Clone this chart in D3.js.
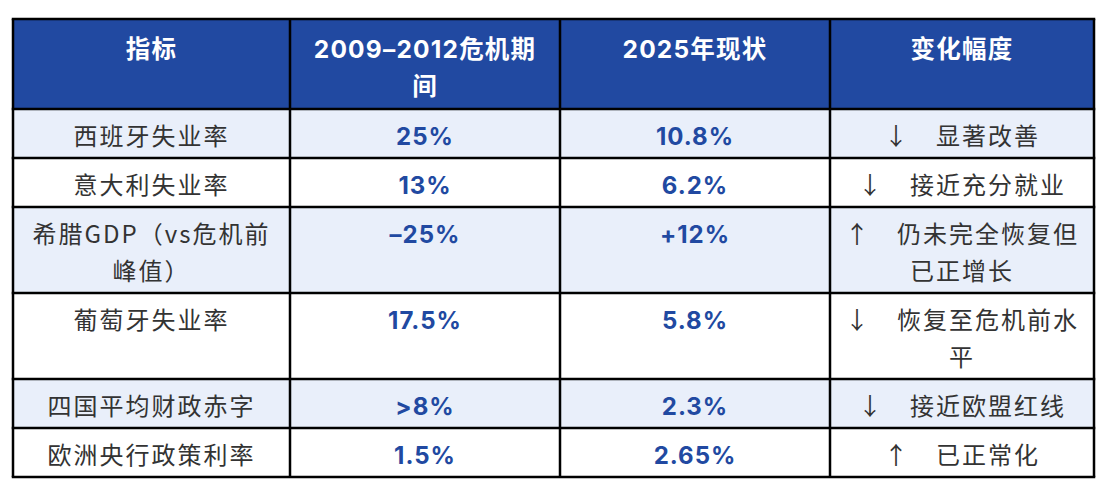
<!DOCTYPE html>
<html>
<head>
<meta charset="utf-8">
<script src="https://cdn.jsdelivr.net/npm/d3@7"></script>
<style>
  html, body { margin: 0; padding: 0; background: #fff; }
  svg text { white-space: pre; }
</style>
</head>
<body>
<svg id="table"></svg>
<script>
// table contents
const columns = ["指标", "2009–2012危机期\n间", "2025年现状", "变化幅度"];
const indicators = ["西班牙失业率", "意大利失业率", "希腊GDP（vs危机前\n峰值）", "葡萄牙失业率", "四国平均财政赤字", "欧洲央行政策利率"];
const crisis = ["25%", "13%", "–25%", "17.5%", ">8%", "1.5%"];
const current = ["10.8%", "6.2%", "+12%", "5.8%", "2.3%", "2.65%"];
const arrows = ["↓", "↓", "↑", "↓", "↓", "↑"];
const changes = ["显著改善", "接近充分就业", "仍未完全恢复但\n已正增长", "恢复至危机前水\n平", "接近欧盟红线", "已正常化"];

const width = 1106, height = 488;
const blue = "#2149a1", light = "#e9effa", ink = "#333333";
const lineH = 37;
const cjk = "'Noto Sans CJK SC', 'Noto Sans', sans-serif";
const latin = "Inter, 'Noto Sans CJK SC', sans-serif";

const rows = indicators.map((d, i) => [
    d.split("\n"),
    [crisis[i]],
    [current[i]],
    (arrows[i] + "\u2003" + changes[i]).split("\n")
]);

// column edges
const colW = [277, 270, 270, 264];
const colX = [0, ...d3.cumsum(colW)];
const x = d3.scaleLinear().domain([0, d3.sum(colW)]).range([13, 1094]);

// row heights from line counts
const headLines = columns.map(c => c.split("\n"));
const headH = 16 + lineH * d3.max(headLines, l => l.length);
const rowH = rows.map(r => 12 + lineH * d3.max(r, c => c.length));
const rowY = [0, headH, ...d3.cumsum(rowH).map(v => v + headH)];
const y = d3.scaleLinear().domain([0, rowY[rowY.length - 1]]).range([19, 477]);

const svg = d3.select("#table").attr("width", width).attr("height", height);

// header
const head = svg.append("g");
head.append("rect")
    .attr("x", x(0)).attr("y", y(0))
    .attr("width", x(colX[4]) - x(0)).attr("height", y(headH) - y(0))
    .attr("fill", blue);

head.selectAll("g")
    .data(headLines)
    .join("g")
    .each(function(lines, j) {
        const cx = (x(colX[j]) + x(colX[j + 1])) / 2;
        d3.select(this).selectAll("text")
            .data(lines)
            .join("text")
            .attr("x", cx)
            .attr("y", (d, k) => y(0) + 8 + lineH * k + lineH / 2 + 4)
            .attr("dy", "0.36em")
            .attr("text-anchor", "middle")
            .attr("fill", "#fff")
            .attr("font-family", latin)
            .attr("font-weight", 700)
            .attr("font-size", 24.5)
            .attr("letter-spacing", 1.2)
            .text(d => d);
    });

// body rows
const body = svg.append("g")
    .selectAll("g")
    .data(rows)
    .join("g")
    .attr("transform", (d, i) => `translate(0,${y(rowY[i + 1])})`);

body.append("rect")
    .attr("x", x(0))
    .attr("width", x(colX[4]) - x(0))
    .attr("height", (d, i) => y(rowY[i + 2]) - y(rowY[i + 1]))
    .attr("fill", (d, i) => i % 2 === 0 ? light : "#fff");

body.each(function(r) {
    const g = d3.select(this);
    r.forEach((lines, j) => {
        const cx = (x(colX[j]) + x(colX[j + 1])) / 2;
        const isValue = j === 1 || j === 2;
        g.append("g").selectAll("text")
            .data(lines)
            .join("text")
            .attr("x", cx)
            .attr("y", (d, k) => 6 + lineH * k + lineH / 2 + 3)
            .attr("dy", "0.36em")
            .attr("text-anchor", "middle")
            .attr("fill", isValue ? blue : ink)
            .attr("font-family", isValue ? latin : cjk)
            .attr("font-weight", isValue ? 700 : 400)
            .attr("font-size", 24)
            .attr("letter-spacing", isValue ? 1 : 2)
            .text(d => d);
    });
});

// grid lines
const grid = svg.append("g").attr("stroke", "#000").attr("stroke-width", 2.5);
grid.selectAll("line.h")
    .data(rowY)
    .join("line")
    .attr("class", "h")
    .attr("x1", x(0) - 1.25).attr("x2", x(colX[4]) + 1.25)
    .attr("y1", d => y(d)).attr("y2", d => y(d));
grid.selectAll("line.v")
    .data(colX)
    .join("line")
    .attr("class", "v")
    .attr("x1", d => x(d)).attr("x2", d => x(d))
    .attr("y1", y(0)).attr("y2", y(rowY[rowY.length - 1]));
</script>
</body>
</html>
